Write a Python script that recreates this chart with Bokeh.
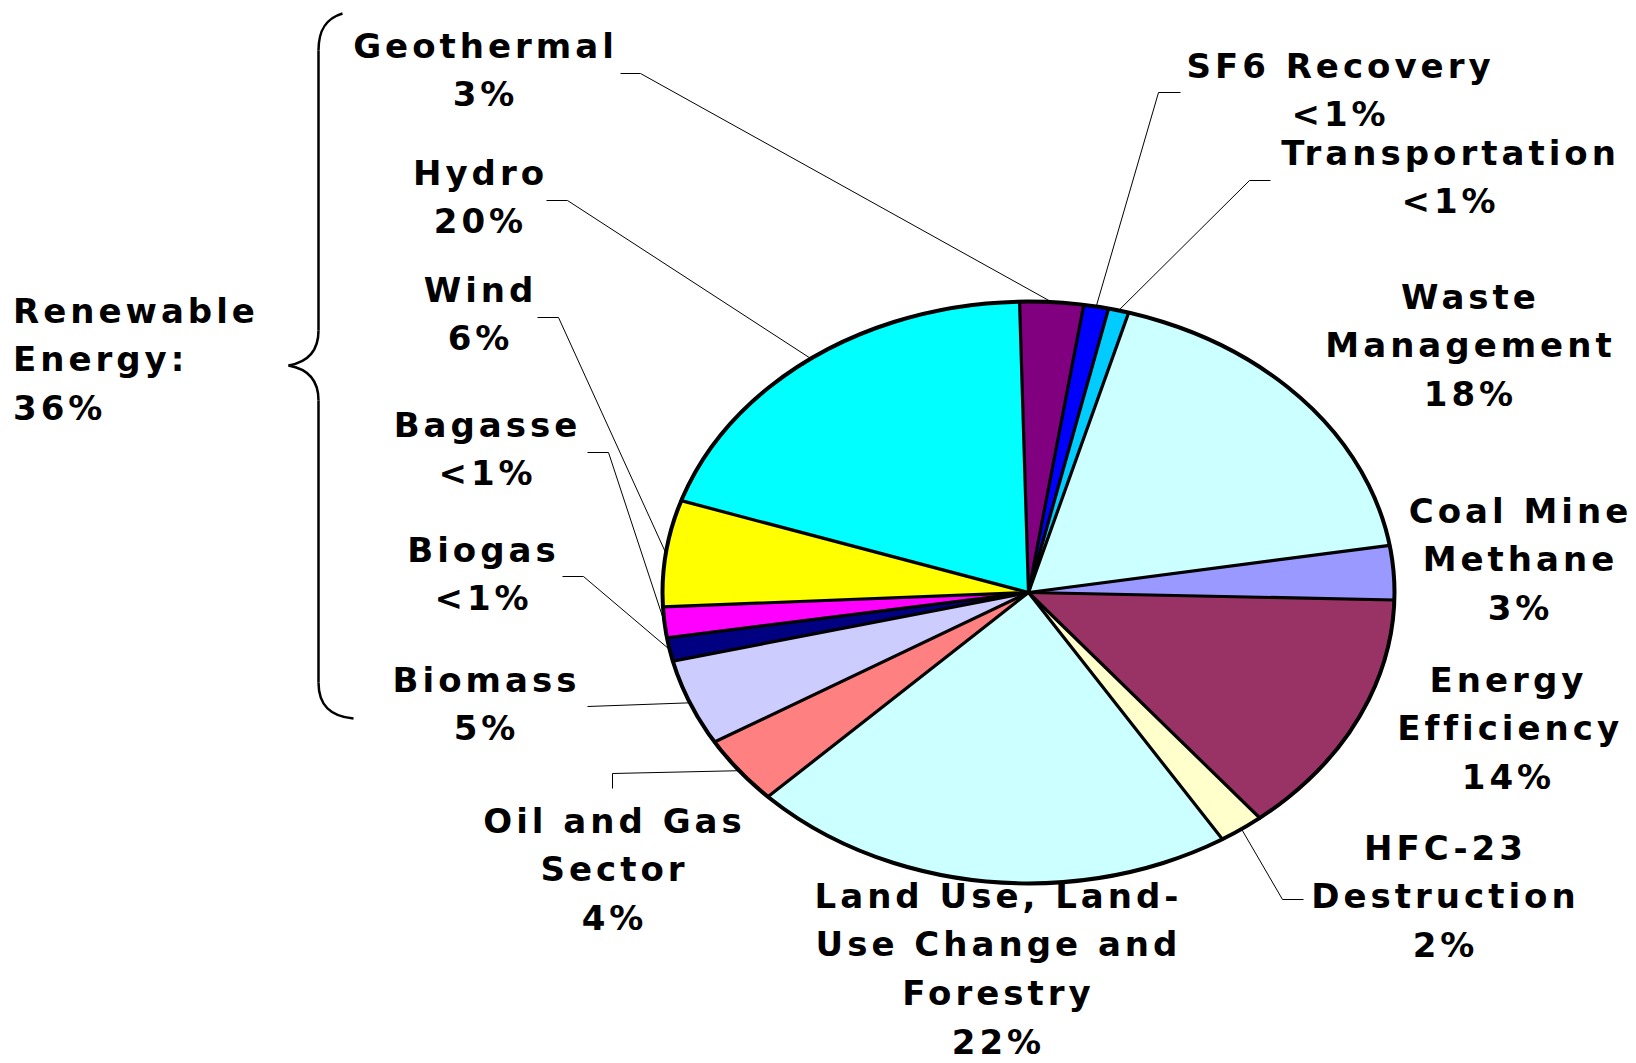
import numpy as np
from bokeh.plotting import figure
from bokeh.models import Range1d, ColumnDataSource, InlineStyleSheet
from bokeh.embed import file_html
from bokeh.resources import INLINE
from bokeh.core.properties import value

# ---------------- data ----------------
categories = ["Geothermal", "SF6 Recovery", "Transportation", "Waste\nManagement",
              "Coal Mine\nMethane", "Energy\nEfficiency", "HFC-23\nDestruction",
              "Land Use, Land-\nUse Change and\nForestry", "Oil and Gas\nSector",
              "Biomass", "Biogas", "Bagasse", "Wind", "Hydro"]
shares = [2.8, 1.1, 0.9, 18.0, 3.0, 13.7, 2.0, 21.5, 3.8, 4.8, 1.3, 1.7, 5.9, 19.5]
share_labels = ["3%", "<1%", "<1%", "18%", "3%", "14%", "2%", "22%", "4%", "5%",
                "<1%", "<1%", "6%", "20%"]
group_lines = ["Renewable", "Energy:", "36%"]

# ---------------- styles / layout ----------------
colors = ["#800080", "#0000FF", "#00CCFF", "#CCFFFF", "#9999FF", "#993366", "#FFFFCC",
          "#CCFFFF", "#FF8080", "#CCCCFF", "#000080", "#FF00FF", "#FFFF00", "#00FFFF"]
W, H = 1636, 1063
CX, CY, RX, RY = 1028, 592, 366, 291
START_DEG = -1.4
FONT_PX = 34
LS = 4.0           # letter spacing px
LINE_H = 48.7

label_anchor = [(483, 45), (1338, 65), (1448, 152), (1468, 296), (1518, 510),
                (1506, 679), (1443, 847), (996, 895), (612, 820), (484, 679),
                (481, 549), (485, 424), (478, 289), (478, 172)]
leader_pts = [[(620, 73), (640, 73)], [(1180, 92), (1158, 92)], [(1270, 180), (1249, 180)],
              None, None, None, [(1303, 899), (1282, 899)], None,
              [(612, 788), (612, 773)], [(587, 706)], [(562, 576), (583, 576)],
              [(587, 452), (608, 452)], [(537, 317), (558, 317)], [(546, 200), (567, 200)]]
group_anchor = (12.5, 310)

p = figure(width=W, height=H, output_backend="svg", toolbar_location=None,
           x_range=Range1d(0, W), y_range=Range1d(H, 0),
           x_axis_type=None, y_axis_type=None, min_border=0,
           background_fill_color="white", border_fill_color="white")
p.grid.visible = False
p.outline_line_color = None
p.stylesheets = [InlineStyleSheet(css=":host, svg, text { letter-spacing: %spx; }" % LS)]

# ---------------- pie ----------------
frac = np.array(shares) / np.sum(shares)
edges = START_DEG + 360.0 * np.concatenate([[0.0], np.cumsum(frac)])
xs, ys = [], []
for i in range(len(shares)):
    t = np.radians(np.linspace(edges[i], edges[i + 1], 120))
    xs.append(np.concatenate([[CX], CX + RX * np.sin(t)]))
    ys.append(np.concatenate([[CY], CY - RY * np.cos(t)]))
p.patches(xs, ys, fill_color=colors, line_color=colors, line_width=1)

te = np.radians(edges[:-1])
p.segment(x0=[CX] * len(te), y0=[CY] * len(te), x1=CX + RX * np.sin(te),
          y1=CY - RY * np.cos(te), line_color="black", line_width=3.2, line_cap="round")
p.ellipse(x=[CX], y=[CY], width=[2 * RX], height=[2 * RY], fill_color=None,
          line_color="black", line_width=4)

# ---------------- leader lines ----------------
mid = np.radians((edges[:-1] + edges[1:]) / 2)
lx, ly = [], []
for i, pts in enumerate(leader_pts):
    if pts is None:
        continue
    ex, ey = CX + RX * np.sin(mid[i]), CY - RY * np.cos(mid[i])
    lx.append([q[0] for q in pts] + [ex])
    ly.append([q[1] for q in pts] + [ey])
p.multi_line(lx, ly, line_color="black", line_width=1)

# ---------------- labels ----------------
tx, ty, tt, to = [], [], [], []
for i, cat in enumerate(categories):
    lines = cat.split("\n") + [share_labels[i]]
    ax, ay = label_anchor[i]
    for k, ln in enumerate(lines):
        tx.append(ax)
        ty.append(ay + k * LINE_H)
        tt.append(ln)
        to.append(-(len(ln) - 1) * LS / 2)
src = ColumnDataSource(dict(x=tx, y=ty, text=tt, xo=to))
p.text(x="x", y="y", text="text", x_offset="xo", source=src,
       text_font=value("DejaVu Sans"), text_font_style="bold",
       text_font_size="%dpx" % FONT_PX, text_align="center",
       text_baseline="alphabetic", text_color="black")

gx = [group_anchor[0]] * len(group_lines)
gy = [group_anchor[1] + k * LINE_H for k in range(len(group_lines))]
p.text(x=gx, y=gy, text=group_lines, text_font=value("DejaVu Sans"),
       text_font_style="bold", text_font_size="%dpx" % FONT_PX, text_align="left",
       text_baseline="alphabetic", text_color="black")

# ---------------- brace ----------------
p.bezier(x0=[342, 318, 288, 318], y0=[13, 330, 365, 682],
         x1=[318, 288, 318, 353], y1=[50, 365, 400, 718],
         cx0=[325, 318, 305, 318], cy0=[18, 352, 368, 705],
         cx1=[318, 305, 318, 330], cy1=[30, 362, 378, 716],
         line_color="black", line_width=2.5)
p.segment(x0=[318, 318], y0=[50, 400], x1=[318, 318], y1=[330, 682],
          line_color="black", line_width=2.5)

open("out.html", "w").write(file_html(p, INLINE))
